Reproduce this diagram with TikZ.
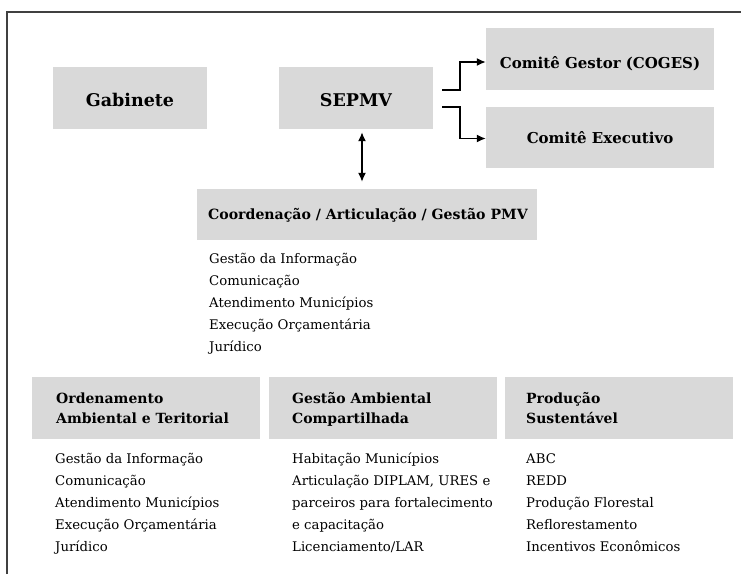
\documentclass[tikz,border=0pt]{standalone}
\usepackage{fontspec}
\setmainfont{DejaVu Serif}
\usetikzlibrary{arrows.meta}
\definecolor{boxgray}{HTML}{D9D9D9}
\definecolor{framegray}{HTML}{404040}
\newcommand\hdTop{\fontsize{17.5}{20}\selectfont\bfseries}
\newcommand\hdCom{\fontsize{15}{18}\selectfont\bfseries}
\newcommand\hdMid{\fontsize{14.1}{16}\selectfont\bfseries}
\newcommand\hdBot{\fontsize{14}{16}\selectfont\bfseries}
\newcommand\lstFont{\fontsize{13.25}{16}\selectfont}
\begin{document}
\begin{tikzpicture}[x=1pt,y=-1pt,
  box/.style={fill=boxgray, draw=none, inner sep=0pt},
  lbl/.style={inner sep=0pt, anchor=base},
  lblw/.style={inner sep=0pt, anchor=base west},
  conn/.style={line width=1.5pt, -{Latex[length=9pt,width=8pt]}},
  dconn/.style={line width=1.5pt, {Latex[length=9pt,width=8pt]}-{Latex[length=9pt,width=8pt]}},
  frame/.style={draw=framegray, line width=1.2pt}]
\useasboundingbox (0,0) rectangle (741,574);
% frame
\coordinate (fTL) at (7,12);
\coordinate (fTR) at (741,12);
\coordinate (fBL) at (7,574);
\draw[frame] (fBL) -- (fTL) -- (fTR);
% top boxes
\node[box, minimum width=154pt, minimum height=62pt] (gab) at (130,98) {};
\node[lbl] (gabT) at (130,106) {\hdTop Gabinete};
\node[box, minimum width=154pt, minimum height=62pt] (sep) at (356,98) {};
\node[lbl] (sepT) at (356,106) {\hdTop SEPMV};
\node[box, minimum width=228pt, minimum height=62pt] (cg) at (600,59) {};
\node[lbl] (cgT) at (600,68) {\hdCom Comitê Gestor (COGES)};
\node[box, minimum width=228pt, minimum height=61pt] (cx) at (600,137.5) {};
\node[lbl] (cxT) at (600,143) {\hdCom Comitê Executivo};
% coordination
\node[box, minimum width=340pt, minimum height=51pt] (co) at (367,214.5) {};
\node[lblw] (coT) at (208,219) {\hdMid Coordenação / Articulação / Gestão PMV};
\foreach \t [count=\i] in {Gestão da Informação,Comunicação,Atendimento Municípios,Execução Orçamentária,Jurídico}
  \node[lblw] (coL\i) at (209,263+22*\i-22) {\lstFont \t};
% bottom boxes
\node[box, minimum width=228pt, minimum height=62pt] (ord) at (146,408) {};
\node[lblw] (ordT1) at (56,403) {\hdBot Ordenamento};
\node[lblw] (ordT2) at (56,423) {\hdBot Ambiental e Teritorial};
\node[box, minimum width=228pt, minimum height=62pt] (ga) at (383,408) {};
\node[lblw] (gaT1) at (292,403) {\hdBot Gestão Ambiental};
\node[lblw] (gaT2) at (292,423) {\hdBot Compartilhada};
\node[box, minimum width=228pt, minimum height=62pt] (ps) at (619,408) {};
\node[lblw] (psT1) at (526,403) {\hdBot Produção};
\node[lblw] (psT2) at (526,423) {\hdBot Sustentável};
\foreach \t [count=\i] in {Gestão da Informação,Comunicação,Atendimento Municípios,Execução Orçamentária,Jurídico}
  \node[lblw] (ordL\i) at (55,463+22*\i-22) {\lstFont \t};
\foreach \t [count=\i] in {Habitação Municípios,{Articulação DIPLAM, URES e},parceiros para fortalecimento,e capacitação,Licenciamento/LAR}
  \node[lblw] (gaL\i) at (292,463+22*\i-22) {\lstFont \t};
\foreach \t [count=\i] in {ABC,REDD,Produção Florestal,Reflorestamento,Incentivos Econômicos}
  \node[lblw] (psL\i) at (526,463+22*\i-22) {\lstFont \t};
% connectors
\draw[conn] ([xshift=9pt,yshift=8pt]sep.east) -- ++(18,0) |- ([yshift=-3pt]cg.west);
\draw[conn] ([xshift=9pt,yshift=-9pt]sep.east) -- ++(18,0) |- ([yshift=-1pt]cx.west);
\draw[dconn, shorten <=3pt, shorten >=7pt] ([xshift=6pt]sep.south) -- ([xshift=6pt]sep.south |- co.north);
\end{tikzpicture}
\end{document}
